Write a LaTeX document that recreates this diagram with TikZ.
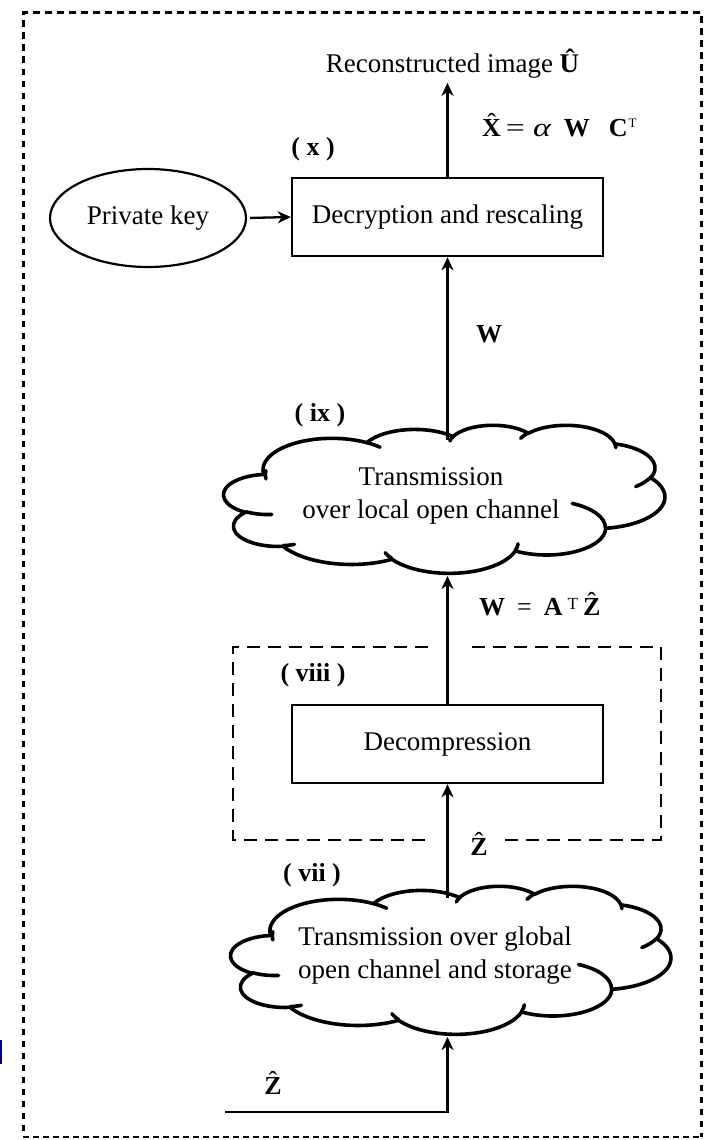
\documentclass[tikz,border=0pt]{standalone}
\usepackage{fontspec}
\usepackage{graphicx}
\setmainfont{Liberation Serif}
\usetikzlibrary{arrows.meta,shapes.geometric}
% capital letter with a small circumflex on top
\newcommand\hatted[1]{\ooalign{#1\cr\hidewidth\raisebox{0.2em}{\mdseries ˆ}\hidewidth\cr}}
% small upright superscript T, top aligned with the capitals
\newcommand\supT[2]{\raisebox{#2}{\fontsize{#1}{#1}\selectfont\mdseries T}}

\begin{document}
\begin{tikzpicture}[x=1pt,y=-1pt,
  declare function={vpa(\a,\w,\h)=atan2(\w*sin(\a),\h*cos(\a));},
  cloudarc/.style n args={4}{insert path={arc[x radius=#1, y radius=#2,
      start angle={vpa(#3,#1,#2)},
      delta angle={mod(vpa(#3+#4,#1,#2)-vpa(#3,#1,#2)+720,360)}]}},
  cloudline/.style={line width=3.6pt, line join=round, line cap=round},
  txt/.style={inner sep=0pt, font=\fontsize{27}{33}\selectfont},
  lab/.style={inner sep=0pt, font=\fontsize{26}{31}\selectfont\bfseries},
  procbox/.style={draw, line width=2.4pt, minimum width=311pt, minimum height=78pt,
      inner sep=0pt, font=\fontsize{27}{33}\selectfont},
  keyshape/.style={draw, line width=2.2pt, ellipse, minimum width=196pt, minimum height=98pt,
      inner sep=0pt, font=\fontsize{27}{33}\selectfont},
  cloudframe/.style={minimum width=#1, inner sep=0pt},
  arr/.style={line width=2.3pt, -{Stealth[length=13pt,width=12pt,inset=4pt]}},
  frameT/.style={line width=3pt, dash pattern=on 6.5pt off 5.5pt},
  frameB/.style={line width=1.3pt, dash pattern=on 6pt off 4pt},
  grpbox/.style={line width=2.6pt, dash pattern=on 13pt off 8pt}
]
\useasboundingbox (0,0) rectangle (704,1140);

% outer dashed frame
\draw[frameT] (23,1131) -- (23,13) -- (701.5,13) -- (701.5,1137);
\draw[frameB] (23,1137) -- (701.5,1137);
\fill[blue!55!black] (0,1040) rectangle (2,1064);

% the Word-style cloud outline, drawn in a 100x100 frame
\newcommand\wordcloud[3]{%
\begin{scope}[shift={(#1.north west)}, x=#2, y=-#3]
\draw[cloudline] (9.028,33.264)
  [cloudarc={15.632}{21.273}{-190.487}{123.781}]
  [cloudarc={12.345}{16.822}{-144.102}{89.945}]
  [cloudarc={10.104}{13.762}{-145.808}{99.723}]
  [cloudarc={11.243}{15.266}{-130.986}{117.242}]
  [cloudarc={12.345}{16.836}{-78.709}{109.027}]
  [cloudarc={15.683}{21.343}{-46.267}{130.269}]
  [cloudarc={13.391}{18.211}{0.625}{114.033}]
  [cloudarc={15.630}{21.331}{22.452}{115.173}]
  [cloudarc={17.870}{24.405}{66.243}{75.711}]
  [cloudarc={10.093}{13.699}{-274.942}{146.736}]
  [cloudarc={10.058}{13.762}{-246.829}{152.519}]
  -- cycle;
\draw[cloudline] (10.863,60.595) [cloudarc={10.058}{13.762}{86.742}{26.430}];
\draw[cloudline] (16.037,80.785) [cloudarc={10.093}{13.699}{73.610}{11.447}];
\draw[cloudline] (38.144,90.486) [cloudarc={15.630}{21.331}{137.624}{14.081}];
\draw[cloudline] (66.729,80.442) [cloudarc={15.630}{21.331}{6.453}{15.998}];
\draw[cloudline] (79.002,53.134) [cloudarc={13.391}{18.211}{-70.292}{70.917}];
\draw[cloudline] (96.755,35.542) [cloudarc={12.345}{16.836}{30.318}{27.752}];
\draw[cloudline] (88.713,12.560) [cloudarc={11.243}{15.266}{-13.744}{14.859}];
\draw[cloudline] (67.310,9.148) [cloudarc={11.243}{15.266}{-149.181}{18.195}];
\draw[cloudline] (51.252,10.926) [cloudarc={10.104}{13.762}{-163.494}{17.686}];
\draw[cloudline] (32.407,12.019) [cloudarc={15.632}{21.273}{-66.707}{12.319}];
\draw[cloudline] (9.553,36.549) [cloudarc={15.632}{21.273}{-190.487}{20.439}];
\end{scope}}

% top stage: decryption
\node[txt, anchor=base, outer sep=4pt] (recon) at (452.5,73) {Reconstructed image \textbf{Û}};
\node[procbox] (dec) at (447.5,217) {Decryption and rescaling};
\node[keyshape] (pk) at (148,218) {Private key};
\node[lab] (lx) at (313,149) {( x )};
\node[lab, anchor=west] (eqx) at (482,128) {\hatted{X}\hspace{5pt}\scalebox{1.3}[1]{\mdseries =}\hspace{8pt}\scalebox{1.3}[1]{\mdseries\itshape α}\hspace{13pt}W\hspace{19pt}C\hspace{1pt}\supT{13}{8.6pt}};
\node[lab] (lw) at (489,334) {W};

% local channel cloud
\node[lab] (lix) at (320,415) {( ix )};
\node[cloudframe=441pt, minimum height=148pt] (c1) at (444.5,499) {};
\wordcloud{c1}{4.41pt}{1.48pt}
\node[txt, align=center] (c1t) at (431,496) {Transmission\\over local open channel};
\coordinate (c1top) at (447.5,440);
\coordinate (c1bot) at (447.5,576);

% decompression group
\node[lab, anchor=west] (eqw) at (479,607) {W\hspace{12pt}{\mdseries =}\hspace{12pt}A\hspace{5pt}\supT{17}{6pt}\hspace{5pt}\hatted{Z}};
\draw[grpbox] (428,647) -- (233,647) -- (233,840) -- (428,840);
\draw[grpbox] (505,840) -- (661,840) -- (661,647) -- (467,647);
\node[lab] (lviii) at (313,675) {( viii )};
\node[procbox] (decomp) at (447.5,744) {Decompression};
\node[lab] (z1) at (479,847) {\hatted{Z}};

% global channel cloud
\node[lab] (lvii) at (312,875) {( vii )};
\node[cloudframe=440pt, minimum height=148pt] (c2) at (451,960) {};
\wordcloud{c2}{4.40pt}{1.48pt}
\node[txt, align=center] (c2t) at (435,955.5) {Transmission over global\\open channel and storage};
\coordinate (c2top) at (447.5,898);
\coordinate (c2bot) at (447.5,1037);

% input
\coordinate (zin) at (225,1112);
\node[lab] (z2) at (273,1086) {\hatted{Z}};

% connectors
\draw[arr] (dec.north) -- (dec.north |- recon.south);
\draw[arr, shorten <=3pt] (pk.east) -- (dec.west);
\draw[arr] (c1top) -- (dec.south);
\draw[arr] (decomp.north) -- (c1bot);
\draw[arr] (c2top) -- (decomp.south);
\draw[arr] (zin) -| (c2bot);
\end{tikzpicture}
\end{document}
